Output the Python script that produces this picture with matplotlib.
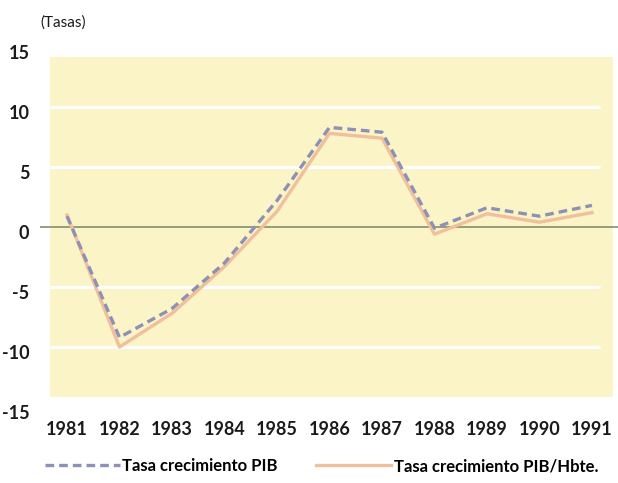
import numpy as np
import matplotlib.pyplot as plt
from matplotlib.patches import Rectangle
from matplotlib.transforms import ScaledTranslation

# data
years = [1981, 1982, 1983, 1984, 1985, 1986, 1987, 1988, 1989, 1990, 1991]
pib = [0.9, -9.2, -6.8, -3.0, 2.2, 8.3, 7.9, -0.1, 1.6, 0.9, 1.8]
pib_hbte = [1.0, -10.0, -7.2, -3.3, 1.3, 7.8, 7.4, -0.6, 1.1, 0.4, 1.2]
yticks = [15, 10, 5, 0, -5, -10, -15]
grid_levels = [10, 5, -5, -10]

plt.rcParams['font.family'] = ['Lato', 'DejaVu Sans']

fig = plt.figure(figsize=(6.18, 4.83), dpi=100)
ax = fig.add_axes([0.0744, 0.1524, 0.9217, 0.7553])
ax.set_xlim(1980.6, 1991.45)
ax.set_ylim(-15.2, 15.2)
for s in ax.spines.values():
    s.set_visible(False)

# yellow plot area
ax.add_patch(Rectangle((1980.68, -14.2), 1991.4 - 1980.68, 28.4,
                       facecolor='#fbf4c6', edgecolor='none', zorder=0))
ax.hlines(grid_levels, 1980.68, 1991.15, colors='white', linewidth=2.4, zorder=1)
ax.hlines(0, 1980.49, 1991.97, colors='#80906e', linewidth=1.2, zorder=2, clip_on=False)

l_hbte, = ax.plot(years, pib_hbte, color='#f2bf9c', linewidth=2.4, zorder=3)
l_pib, = ax.plot(years, pib, color='#8d91b6', linewidth=2.4,
                 linestyle=(0, (2.6, 1.5)), zorder=4)

ax.set_xticks(years)
ax.set_xticklabels([str(y) for y in years], fontsize=13, fontweight='bold', color='#1a1a1a')
ax.set_yticks(yticks)
ax.set_yticklabels([str(v) for v in yticks], fontsize=13, fontweight='bold', color='#1a1a1a')
ax.tick_params(axis='both', length=0)
ax.tick_params(axis='x', pad=8)
ax.tick_params(axis='y', pad=12)
for lab in ax.get_yticklabels():
    lab.set_transform(lab.get_transform() + ScaledTranslation(0, -0.05, fig.dpi_scale_trans))

fig.text(40 / 618, 1 - 23 / 483, '(Tasas)', fontsize=11, va='center', ha='left', color='#1a1a1a')

leg_kw = dict(loc='center left', frameon=False, prop={'size': 12, 'weight': 'bold'},
              handlelength=4.5, handletextpad=0.15, borderaxespad=0, borderpad=0)
fig.legend([l_pib], ['Tasa crecimiento PIB'], bbox_to_anchor=(45 / 618, 1 - 466 / 483), **leg_kw)
fig.legend([l_hbte], ['Tasa crecimiento PIB/Hbte.'], bbox_to_anchor=(316 / 618, 1 - 466 / 483), **leg_kw)

fig.savefig('out.png', dpi=100, facecolor='white')
